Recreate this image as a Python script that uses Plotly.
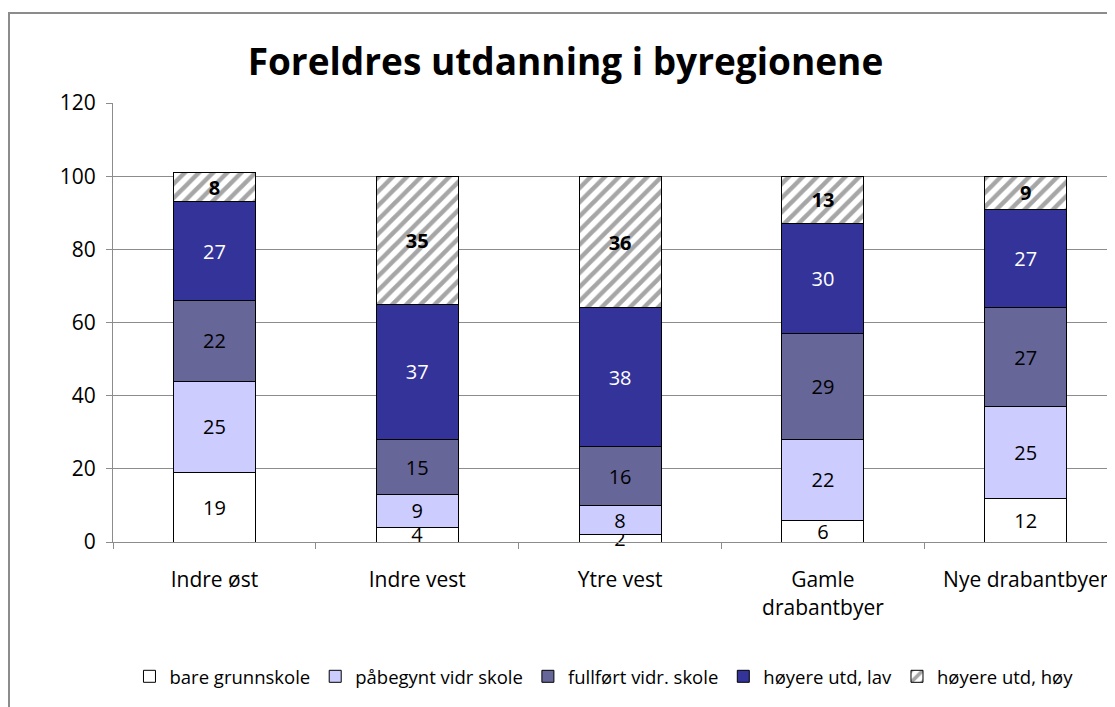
import plotly.graph_objects as go

categories = ["Indre øst", "Indre vest", "Ytre vest", "Gamle<br>drabantbyer", "Nye drabantbyer"]
series_names = ["bare grunnskole", "påbegynt vidr skole", "fullført vidr. skole", "høyere utd, lav", "høyere utd, høy"]
bare_grunnskole = [19, 4, 2, 6, 12]
paabegynt_vidr_skole = [25, 9, 8, 22, 25]
fullfoert_vidr_skole = [22, 15, 16, 29, 27]
hoeyere_utd_lav = [27, 37, 38, 30, 27]
hoeyere_utd_hoey = [8, 35, 36, 13, 9]
y_ticks = [0, 20, 40, 60, 80, 100, 120]

FONT = "'Open Sans', Lato, sans-serif"
series = [bare_grunnskole, paabegynt_vidr_skole, fullfoert_vidr_skole, hoeyere_utd_lav, hoeyere_utd_hoey]
colors = ["#FFFFFF", "#CCCCFF", "#666699", "#333399", "#FFFFFF"]
text_colors = ["black", "black", "black", "white", "black"]

fig = go.Figure()
for i, (name, vals) in enumerate(zip(series_names, series)):
    hatched = i == 4
    texts = [f"<b>{v}</b>" if hatched else str(v) for v in vals]
    marker = dict(color=colors[i], line=dict(color="black", width=1))
    if hatched:
        marker["pattern"] = dict(shape="/", fgcolor="#a6a6a6", bgcolor="#FFFFFF",
                                 size=10, solidity=0.45, fillmode="replace")
    fig.add_trace(go.Bar(
        name=name, x=categories, y=vals, marker=marker,
        text=texts, textposition="inside", insidetextanchor="middle", textangle=0,
        insidetextfont=dict(color=text_colors[i], size=20, family=FONT),
        cliponaxis=False, width=0.405,
    ))

fig.update_layout(
    barmode="stack",
    width=1107, height=699,
    margin=dict(l=105, r=0, t=95, b=165),
    paper_bgcolor="white", plot_bgcolor="white",
    font=dict(family=FONT, size=20, color="black"),
    uniformtext=dict(minsize=20, mode="show"),
    title=dict(text="<b>Foreldres utdanning i byregionene</b>", x=0.5036, xanchor="center",
               y=0.9227, yanchor="middle", font=dict(size=37, family=FONT, color="black")),
    legend=dict(orientation="h", x=0.49, xanchor="center", y=-0.307, yanchor="middle",
                font=dict(size=18.5, family=FONT), traceorder="normal",
                itemwidth=30, tracegroupgap=0),
    shapes=[dict(type="rect", xref="paper", yref="paper", x0=-0.1038, x1=1.2,
                 y0=-0.6, y1=1.205, line=dict(color="#8c8c8c", width=2), layer="below")],
)
fig.update_xaxes(
    range=[-0.5, 4.44], showline=True, linecolor="#8c8c8c", linewidth=1,
    ticks="outside", tickson="boundaries", ticklen=6, tickcolor="#8c8c8c",
    tickfont=dict(size=21, family=FONT), showgrid=False, ticklabelstandoff=19,
)
fig.update_yaxes(
    range=[0, 120], tickvals=y_ticks, showline=True, linecolor="#8c8c8c", linewidth=1,
    ticks="outside", ticklen=6, tickcolor="#8c8c8c", showgrid=True, gridcolor="#8c8c8c",
    gridwidth=1, tickfont=dict(size=21, family=FONT), zeroline=False, ticklabelstandoff=6,
)
fig.write_html("out.html")
